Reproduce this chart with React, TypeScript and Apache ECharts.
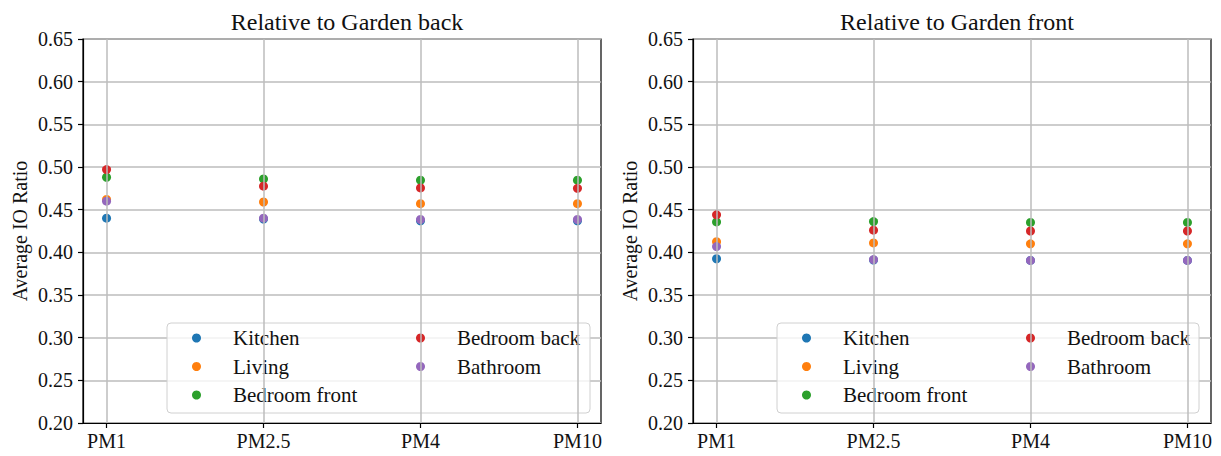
import React, { useEffect, useRef } from "react";
import * as echarts from "echarts";

const categories = ["PM1", "PM2.5", "PM4", "PM10"];
const seriesNames = ["Kitchen", "Living", "Bedroom front", "Bedroom back", "Bathroom"];
const colors = ["#1f77b4", "#ff7f0e", "#2ca02c", "#d62728", "#9467bd"];
const titles = ["Relative to Garden back", "Relative to Garden front"];
const yTicks = { min: 0.2, max: 0.65, interval: 0.05 };

// Relative to Garden back
const backKitchen = [0.44, 0.439, 0.437, 0.437];
const backLiving = [0.462, 0.459, 0.457, 0.457];
const backBedroomFront = [0.488, 0.486, 0.4845, 0.4845];
const backBedroomBack = [0.497, 0.4775, 0.4755, 0.475];
const backBathroom = [0.46, 0.44, 0.4385, 0.4385];

// Relative to Garden front
const frontKitchen = [0.3925, 0.391, 0.3905, 0.3905];
const frontLiving = [0.4125, 0.411, 0.41, 0.41];
const frontBedroomFront = [0.4356, 0.436, 0.435, 0.435];
const frontBedroomBack = [0.444, 0.426, 0.425, 0.425];
const frontBathroom = [0.4067, 0.3915, 0.3905, 0.3905];

const panels = [
  [backKitchen, backLiving, backBedroomFront, backBedroomBack, backBathroom],
  [frontKitchen, frontLiving, frontBedroomFront, frontBedroomBack, frontBathroom],
];

const FONT = "Liberation Serif";

export default function App() {
  const ref = useRef<HTMLDivElement>(null);
  useEffect(() => {
    document.body.style.margin = "0";
    const chart = echarts.init(ref.current!, undefined, { renderer: "svg" });
    const grids = [
      { left: 83, right: 1221 - 601, top: 39, bottom: 456 - 423 },
      { left: 693, right: 1221 - 1211, top: 39, bottom: 456 - 423 },
    ];
    const tickIdx = categories.map((_, i) => i);
    const xAxes = grids.map((_, g) => ({
      type: "value",
      gridIndex: g,
      min: -0.15,
      max: 3.15,
      axisLine: { show: true, onZero: false, lineStyle: { color: "#000", width: 1.2 } },
      axisTick: { show: true, customValues: tickIdx, length: 5, lineStyle: { color: "#000", width: 1.2 } },
      axisLabel: {
        customValues: tickIdx,
        formatter: (v: number) => categories[Math.round(v)] ?? "",
        color: "#111",
        fontFamily: FONT,
        fontSize: 20,
        margin: 8,
      },
      splitLine: { show: false },
    }));
    const yAxes = grids.map((_, g) => ({
      type: "value",
      gridIndex: g,
      min: yTicks.min,
      max: yTicks.max,
      interval: yTicks.interval,
      name: "Average IO Ratio",
      nameLocation: "middle",
      nameGap: 53,
      nameTextStyle: { fontFamily: FONT, fontSize: 20, color: "#111" },
      axisLine: { show: true, onZero: false, lineStyle: { color: "#000", width: 1.2 } },
      axisTick: { show: true, length: 5, lineStyle: { color: "#000", width: 1.2 } },
      axisLabel: {
        formatter: (v: number) => v.toFixed(2),
        color: "#111",
        fontFamily: FONT,
        fontSize: 20,
        margin: 10,
      },
      splitLine: { show: true, lineStyle: { color: "#bdbdbd", width: 1.5 } },
    }));
    const series: any[] = [];
    grids.forEach((_, g) => {
      series.push({
        type: "scatter",
        xAxisIndex: g,
        yAxisIndex: g,
        data: [],
        z: 1,
        silent: true,
        markLine: {
          silent: true,
          symbol: "none",
          label: { show: false },
          lineStyle: { color: "#bdbdbd", width: 1.5, type: "solid" },
          data: tickIdx.map((i) => ({ xAxis: i })),
        },
      });
      panels[g].forEach((vals, s) => {
        series.push({
          type: "scatter",
          name: seriesNames[s],
          xAxisIndex: g,
          yAxisIndex: g,
          symbol: "circle",
          symbolSize: 9,
          itemStyle: { color: colors[s], opacity: 1 },
          data: vals.map((v, i) => [i, v]),
          z: 3,
        });
      });
    });
    const legendBase = {
      orient: "vertical",
      icon: "circle",
      itemWidth: 9,
      itemHeight: 9,
      itemGap: 7.5,
      top: 322.5,
      padding: 5,
      selectedMode: false,
      textStyle: {
        fontFamily: FONT,
        fontSize: 21,
        lineHeight: 21,
        color: "#111",
        padding: [0, 0, 0, 27],
      },
    };
    const legends = [187, 411, 797, 1021].map((left, k) => ({
      ...legendBase,
      left,
      data: k % 2 === 0 ? seriesNames.slice(0, 3) : seriesNames.slice(3),
    }));
    const legendBoxes = [
      [167, 590],
      [777, 1199],
    ].map(([x1, x2]) => ({
      type: "rect",
      z: 3,
      shape: { x: x1, y: 323, width: x2 - x1, height: 90, r: 4 },
      style: { fill: "rgba(255,255,255,0.8)", stroke: "#d0d0d0", lineWidth: 1 },
    }));
    chart.setOption({
      animation: false,
      backgroundColor: "#fff",
      title: titles.map((t, g) => ({
        text: t,
        left: g === 0 ? 342 : 952,
        textAlign: "center",
        top: 5,
        textStyle: { fontFamily: FONT, fontSize: 24, fontWeight: "normal", color: "#111" },
      })),
      grid: grids.map((gr) => ({ ...gr, show: true, borderColor: "#000", borderWidth: 1.2, containLabel: false })),
      xAxis: xAxes,
      yAxis: yAxes,
      legend: legends,
      graphic: legendBoxes,
      series,
    });
    return () => chart.dispose();
  }, []);
  return <div ref={ref} style={{ width: 1221, height: 456 }} />;
}
